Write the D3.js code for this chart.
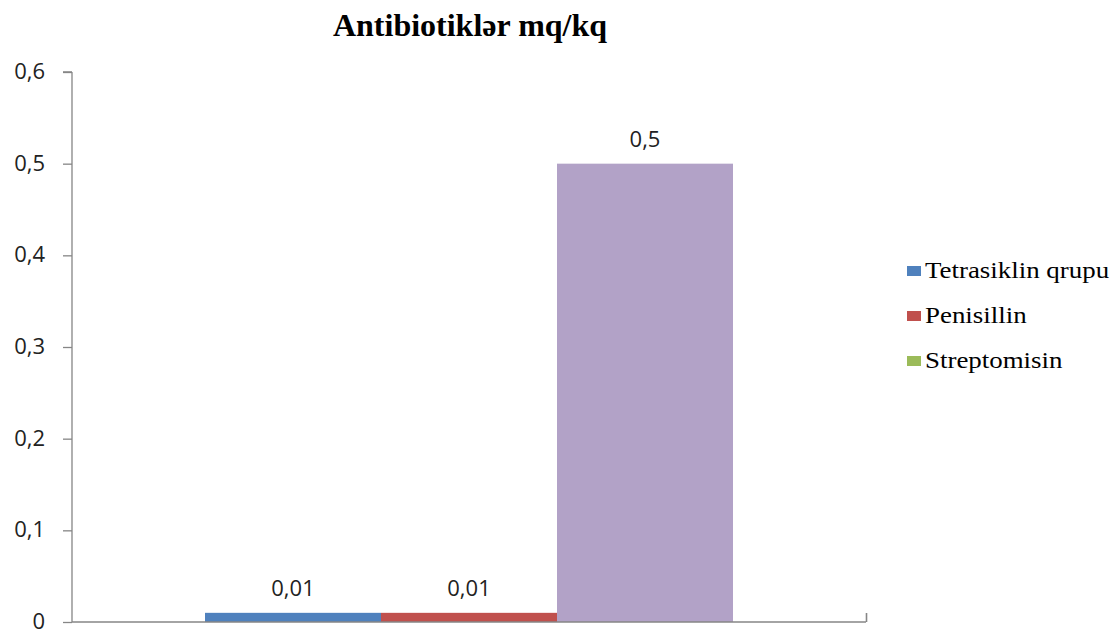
<!DOCTYPE html>
<html><head><meta charset="utf-8">
<script src="https://cdn.jsdelivr.net/npm/d3@7"></script>
<style>body{margin:0;background:#fff}svg{display:block}</style>
</head><body><svg id="c" width="1118" height="631"></svg>
<script>
const title = "Antibiotiklər mq/kq";
const seriesNames = ["Tetrasiklin qrupu", "Penisillin", "Streptomisin"];
const seriesValues = [0.01, 0.01, 0.5];
const barColors = ["#4F81BD", "#C0504D", "#B2A2C7"];
const legendColors = ["#4F81BD", "#C0504D", "#9BBB59"];
const yTicks = [0, 0.1, 0.2, 0.3, 0.4, 0.5, 0.6];

const svg = d3.select("#c");
const L = 72, R = 866, T = 72, B = 622;
const y = d3.scaleLinear().domain([0, 0.6]).range([B, T]);
const x = d3.scaleBand().domain(seriesNames).range([L + 133, R - 133]).padding(0);
const fmt = v => String(v).replace(".", ",");
const axisColor = "#868686";
const sans = "Open Sans, Liberation Sans";

// title
svg.append("text").attr("x", 470).attr("y", 36).attr("text-anchor", "middle")
  .attr("font-family", "Liberation Serif").attr("font-weight", "bold").attr("font-size", 32)
  .attr("fill", "#000").text(title);

// bars
svg.selectAll("rect.bar").data(seriesNames).join("rect").attr("class", "bar")
  .attr("x", d => x(d)).attr("width", x.bandwidth())
  .attr("y", (d, i) => y(seriesValues[i])).attr("height", (d, i) => B - y(seriesValues[i]))
  .attr("fill", (d, i) => barColors[i]);

// data labels
svg.selectAll("text.lbl").data(seriesNames).join("text").attr("class", "lbl")
  .attr("x", d => x(d) + x.bandwidth() / 2).attr("y", (d, i) => y(seriesValues[i]) - 17)
  .attr("text-anchor", "middle").attr("font-family", sans).attr("font-size", 22)
  .attr("fill", "#222").text((d, i) => fmt(seriesValues[i]));

// y axis
const ya = svg.append("g").attr("transform", `translate(${L},0)`)
  .call(d3.axisLeft(y).tickValues(yTicks).tickFormat(fmt).tickSize(9).tickPadding(18));
ya.select(".domain").attr("stroke", axisColor).attr("stroke-width", 1.3).attr("d", `M0,${T}H-9M0,${T}V${B}`);
ya.selectAll(".tick line").attr("stroke", axisColor).attr("stroke-width", 1.3);
ya.selectAll(".tick text").attr("font-family", sans).attr("font-size", 22).attr("fill", "#222")
  .attr("dy", "0.3em");

// x axis
const xa = svg.append("g").attr("transform", `translate(0,${B})`)
  .call(d3.axisBottom(d3.scaleLinear().domain([0, 1]).range([L, R])).tickValues([1]).tickSize(-9).tickFormat(""));
xa.select(".domain").attr("stroke", axisColor).attr("stroke-width", 1.6).attr("d", `M${L},0H${R}`);
xa.selectAll(".tick line").attr("stroke", axisColor).attr("stroke-width", 1.6);

// legend
const lg = svg.append("g");
seriesNames.forEach((n, i) => {
  const base = 278 + i * 45;
  lg.append("rect").attr("x", 907).attr("y", base - 12).attr("width", 14).attr("height", 10).attr("fill", legendColors[i]);
  lg.append("text").attr("transform", `translate(925,${base}) scale(1.17,1)`).attr("font-family", "Liberation Serif")
    .attr("font-size", 23).attr("fill", "#000").text(n);
});
</script></body></html>
